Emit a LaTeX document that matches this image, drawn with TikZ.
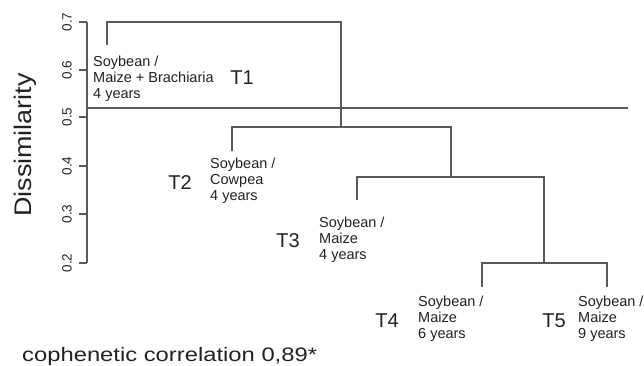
\documentclass[tikz,border=0pt]{standalone}
\usepackage{fontspec}
\setmainfont{Liberation Sans}
\usetikzlibrary{positioning}
\definecolor{Stem}{HTML}{5A5A5A}
\definecolor{Ink}{HTML}{222222}
\tikzset{
  branch/.style={Stem,line width=1.3pt},
  leaf/.style={anchor=north west,align=left,font=\fontsize{14.5}{16}\selectfont,text=Ink,inner sep=0pt},
  treat/.style={font=\fontsize{20}{20}\selectfont,text=Ink,inner sep=0pt},
  tick/.style={rotate=90,font=\fontsize{13.5}{13.5}\selectfont,text=Ink,inner sep=0pt}
}

\begin{document}
\begin{tikzpicture}[x=1pt,y=-1pt]
  \useasboundingbox (0,0) rectangle (644,366);
  % axis
  \coordinate (ytop) at (87,22);
  \coordinate (ybot) at (87,263);
  \draw[branch] (ytop) -- (ybot);
  \foreach \v/\y in {0.7/22,0.6/70,0.5/117,0.4/166,0.3/214,0.2/263}{
    \coordinate (tk\y) at (87,\y);
    \draw[branch] (tk\y) -- ++(-8,0);
    \node[tick] (lb\y) at (67,\y) {\v};
  }
  \node[rotate=90,font=\fontsize{24}{24}\selectfont,text=Ink,inner sep=0pt] (ylab) at (25,145) {\scalebox{1.12}[1]{Dissimilarity}};
  % cut line
  \coordinate (cutA) at (87,108);
  \coordinate (cutB) at (628,108);
  \draw[branch] (cutA) -- (cutB);
  % leaves and merges
  \coordinate (l1) at (107,45);
  \coordinate (l2) at (232,151);
  \coordinate (l3) at (357,200);
  \coordinate (l4) at (482,287);
  \coordinate (l5) at (607,287);
  \coordinate (m45) at (544,263);
  \coordinate (m345) at (451,177);
  \coordinate (m2345) at (341,127);
  \coordinate (mall) at (224,22);
  \draw[branch] (l4) |- (m45) -| (l5);
  \draw[branch] (l3) |- (m345) -| (m45);
  \draw[branch] (l2) |- (m2345) -| (m345);
  \draw[branch] (l1) |- (mall) -| (m2345);
  % labels
  \node[leaf] (s1) at (93,56) {Soybean /\\Maize + Brachiaria\\4 years};
  \node[treat] (t1) at (242,78) {T1};
  \node[leaf] (s2) at (210,158) {Soybean /\\Cowpea\\4 years};
  \node[treat] (t2) at (180,183) {T2};
  \node[leaf] (s3) at (319,217) {Soybean /\\Maize\\4 years};
  \node[treat] (t3) at (288,241) {T3};
  \node[leaf] (s4) at (418,296) {Soybean /\\Maize\\6 years};
  \node[treat] (t4) at (387,321) {T4};
  \node[leaf] (s5) at (578,296) {Soybean /\\Maize\\9 years};
  \node[treat] (t5) at (554,321) {T5};
  \node[anchor=base west,font=\fontsize{19.5}{19.5}\selectfont,text=Ink,inner sep=0pt] (coph) at (22,361) {\scalebox{1.22}[1]{cophenetic correlation 0,89*}};
\end{tikzpicture}
\end{document}
